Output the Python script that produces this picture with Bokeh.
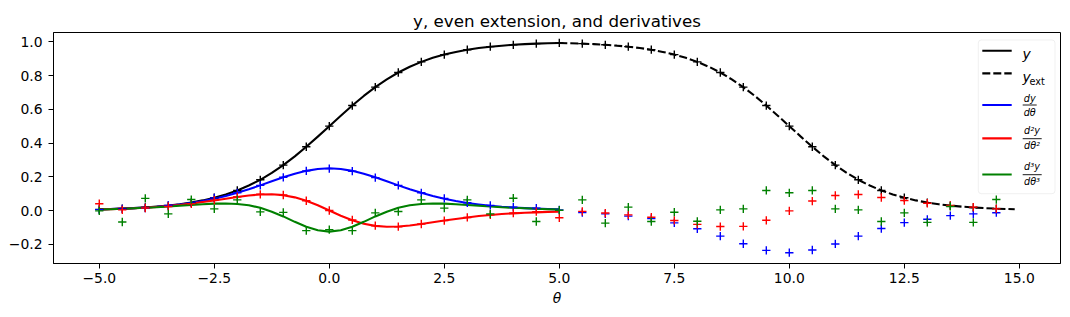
from bokeh.plotting import figure
from bokeh.models import Range1d, FixedTicker, BoxAnnotation, Arrow, Label
from bokeh.embed import file_html
from bokeh.resources import INLINE

# ---- data ----
theta = [-5.0, -4.75, -4.5, -4.25, -4.0, -3.75, -3.5, -3.25, -3.0, -2.75, -2.5, -2.25, -2.0, -1.75,
         -1.5, -1.25, -1.0, -0.75, -0.5, -0.25, 0.0, 0.25, 0.5, 0.75, 1.0, 1.25, 1.5, 1.75, 2.0, 2.25,
         2.5, 2.75, 3.0, 3.25, 3.5, 3.75, 4.0, 4.25, 4.5, 4.75, 5.0]
y_line = [0.007, 0.009, 0.011, 0.014, 0.018, 0.023, 0.029, 0.037, 0.047, 0.060, 0.076, 0.095, 0.119, 0.148,
          0.182, 0.223, 0.269, 0.321, 0.378, 0.438, 0.500, 0.562, 0.622, 0.679, 0.731, 0.777, 0.818, 0.852,
          0.881, 0.905, 0.924, 0.940, 0.953, 0.963, 0.971, 0.977, 0.982, 0.986, 0.989, 0.991, 0.993]
dy_line = [0.007, 0.009, 0.011, 0.014, 0.018, 0.022, 0.028, 0.036, 0.045, 0.056, 0.070, 0.086, 0.105, 0.126,
           0.149, 0.173, 0.197, 0.218, 0.235, 0.246, 0.250, 0.246, 0.235, 0.218, 0.197, 0.173, 0.149, 0.126,
           0.105, 0.086, 0.070, 0.056, 0.045, 0.036, 0.028, 0.022, 0.018, 0.014, 0.011, 0.009, 0.007]
d2y_line = [0.007, 0.008, 0.011, 0.013, 0.017, 0.021, 0.027, 0.033, 0.041, 0.050, 0.059, 0.070, 0.080, 0.089,
            0.095, 0.096, 0.091, 0.078, 0.058, 0.031, 0.000, -0.031, -0.058, -0.078, -0.091, -0.096, -0.095,
            -0.089, -0.080, -0.070, -0.059, -0.050, -0.041, -0.033, -0.027, -0.021, -0.017, -0.013, -0.011,
            -0.008, -0.007]
d3y_line = [0.006, 0.008, 0.010, 0.013, 0.016, 0.019, 0.024, 0.028, 0.033, 0.037, 0.041, 0.042, 0.039, 0.031,
            0.016, -0.007, -0.035, -0.067, -0.096, -0.117, -0.125, -0.117, -0.096, -0.067, -0.035, -0.007,
            0.016, 0.031, 0.039, 0.042, 0.041, 0.037, 0.033, 0.028, 0.024, 0.019, 0.016, 0.013, 0.010, 0.008,
            0.006]

theta_ext = [5.0, 5.25, 5.5, 5.75, 6.0, 6.25, 6.5, 6.75, 7.0, 7.25, 7.5, 7.75, 8.0, 8.25, 8.5, 8.75, 9.0,
             9.25, 9.5, 9.75, 10.0, 10.25, 10.5, 10.75, 11.0, 11.25, 11.5, 11.75, 12.0, 12.25, 12.5, 12.75,
             13.0, 13.25, 13.5, 13.75, 14.0, 14.25, 14.5, 14.75, 14.9]
y_ext_line = [0.993, 0.991, 0.989, 0.986, 0.982, 0.977, 0.971, 0.963, 0.953, 0.940, 0.924, 0.905, 0.881,
              0.852, 0.818, 0.777, 0.731, 0.679, 0.622, 0.562, 0.500, 0.438, 0.378, 0.321, 0.269, 0.223,
              0.182, 0.148, 0.119, 0.095, 0.076, 0.060, 0.047, 0.037, 0.029, 0.023, 0.018, 0.014, 0.011,
              0.009, 0.007]

theta_s = [-5.0, -4.5, -4.0, -3.5, -3.0, -2.5, -2.0, -1.5, -1.0, -0.5, 0.0, 0.5, 1.0, 1.5, 2.0, 2.5, 3.0,
           3.5, 4.0, 4.5, 5.0, 5.5, 6.0, 6.5, 7.0, 7.5, 8.0, 8.5, 9.0, 9.5, 10.0, 10.5, 11.0, 11.5, 12.0,
           12.5, 13.0, 13.5, 14.0, 14.5]
y_s = [0.007, 0.011, 0.018, 0.029, 0.047, 0.076, 0.119, 0.182, 0.269, 0.378, 0.500, 0.622, 0.731, 0.818,
       0.881, 0.924, 0.953, 0.971, 0.982, 0.989, 0.993, 0.989, 0.982, 0.971, 0.953, 0.924, 0.881, 0.818,
       0.731, 0.622, 0.500, 0.378, 0.269, 0.182, 0.119, 0.076, 0.047, 0.029, 0.018, 0.011]
dy_s = [0.005, 0.010, 0.015, 0.030, 0.045, 0.075, 0.105, 0.149, 0.197, 0.235, 0.248, 0.233, 0.195, 0.149,
        0.105, 0.072, 0.046, 0.030, 0.020, 0.014, 0.004, -0.012, -0.020, -0.033, -0.048, -0.073, -0.108,
        -0.152, -0.197, -0.236, -0.250, -0.234, -0.198, -0.152, -0.107, -0.072, -0.052, -0.030, -0.020,
        -0.013]
d2y_s = [0.040, 0.004, 0.015, 0.024, 0.040, 0.061, 0.082, 0.096, 0.092, 0.058, 0.000, -0.056, -0.090,
         -0.096, -0.080, -0.060, -0.041, -0.025, -0.015, -0.007, -0.043, -0.005, -0.015, -0.026, -0.040,
         -0.059, -0.082, -0.095, -0.094, -0.058, -0.002, 0.056, 0.089, 0.095, 0.077, 0.059, 0.043, 0.030,
         0.020, 0.010]
d3y_s = [-0.002, -0.068, 0.072, -0.020, 0.065, 0.010, 0.063, -0.008, -0.011, -0.119, -0.113, -0.119, -0.014,
         -0.006, 0.063, 0.014, 0.063, -0.020, 0.073, -0.065, 0.002, 0.063, -0.075, 0.020, -0.065, -0.010,
         -0.064, 0.004, 0.010, 0.119, 0.105, 0.119, 0.010, 0.004, -0.065, -0.014, -0.070, 0.024, -0.070,
         0.065]

x_ticks = [-5.0, -2.5, 0.0, 2.5, 5.0, 7.5, 10.0, 12.5, 15.0]
x_tick_labels = ["\u22125.0", "\u22122.5", "0.0", "2.5", "5.0", "7.5", "10.0", "12.5", "15.0"]
y_ticks = [-0.2, 0.0, 0.2, 0.4, 0.6, 0.8, 1.0]
y_tick_labels = ["\u22120.2", "0.0", "0.2", "0.4", "0.6", "0.8", "1.0"]

FONT = "DejaVu Sans"
BLACK, BLUE, RED, GREEN = "#000000", "#0000ff", "#ff0000", "#008000"

p = figure(width=1062, height=309, output_backend="svg", toolbar_location=None,
           x_range=Range1d(-5.995, 15.895), y_range=Range1d(-0.314, 1.055),
           min_border_left=53, min_border_right=2, min_border_top=32, min_border_bottom=46,
           title="y, even extension, and derivatives")
p.background_fill_color = "white"
p.border_fill_color = "white"
p.outline_line_color = "black"
p.outline_line_width = 1
p.outline_line_alpha = 1
p.xgrid.visible = False
p.ygrid.visible = False

p.title.text_font = FONT
p.title.text_font_size = "16.7px"
p.title.text_font_style = "normal"
p.title.align = "center"
p.title.standoff = 4
p.title.text_color = "black"

for ax in (p.xaxis[0], p.yaxis[0]):
    ax.axis_line_color = "black"
    ax.major_tick_line_color = "black"
    ax.major_tick_out = 5
    ax.major_tick_in = 0
    ax.minor_tick_line_color = None
    ax.major_label_text_font = FONT
    ax.major_label_text_font_size = "13.9px"
    ax.major_label_text_color = "black"

p.xaxis.major_label_standoff = 4
p.yaxis.major_label_standoff = 6
p.xaxis.ticker = FixedTicker(ticks=x_ticks)
p.xaxis.major_label_overrides = dict(zip(x_ticks, x_tick_labels))
p.yaxis.ticker = FixedTicker(ticks=y_ticks)
p.yaxis.major_label_overrides = dict(zip(y_ticks, y_tick_labels))
p.xaxis.axis_label = "\u03b8"
p.xaxis.axis_label_text_font = FONT
p.xaxis.axis_label_text_font_size = "13.9px"
p.xaxis.axis_label_text_font_style = "italic"
p.xaxis.axis_label_text_color = "black"
p.xaxis.axis_label_standoff = 4

LW = 2.08
p.line(theta, y_line, line_color=BLACK, line_width=LW, line_join="round")
p.line(theta_ext, y_ext_line, line_color=BLACK, line_width=LW, line_dash="8 3")
p.line(theta, dy_line, line_color=BLUE, line_width=LW, line_join="round")
p.line(theta, d2y_line, line_color=RED, line_width=LW, line_join="round")
p.line(theta, d3y_line, line_color=GREEN, line_width=LW, line_join="round")

MS, MW = 8.3, 1.4
p.scatter(theta_s, y_s, marker="cross", size=MS, line_color=BLACK, line_width=MW)
p.scatter(theta_s, dy_s, marker="cross", size=MS, line_color=BLUE, line_width=MW)
p.scatter(theta_s, d2y_s, marker="cross", size=MS, line_color=RED, line_width=MW)
p.scatter(theta_s, d3y_s, marker="cross", size=MS, line_color=GREEN, line_width=MW)

# ---- legend (screen units, relative to the frame's bottom-left) ----
FL, FB = 53.5, 262.8


def sx(rx):
    return rx - FL


def sy(ry):
    return FB - ry


p.add_layout(BoxAnnotation(left=sx(978.3), right=sx(1055), top=sy(39.3), bottom=sy(193),
                           left_units="screen", right_units="screen", top_units="screen",
                           bottom_units="screen", fill_color="white", fill_alpha=0.8,
                           line_color="#cccccc", line_width=1, border_radius=3))


def sample(ry, color, dash="solid"):
    p.add_layout(Arrow(x_start=sx(982.3), y_start=sy(ry), x_end=sx(1011.7), y_end=sy(ry),
                       start_units="screen", end_units="screen", start=None, end=None,
                       line_color=color, line_width=LW, line_dash=dash))


def text(rx, ry, s, size, align="left", baseline="middle", style="italic"):
    p.add_layout(Label(x=sx(rx), y=sy(ry), x_units="screen", y_units="screen", text=s,
                       text_font=FONT, text_font_size=size, text_font_style=style,
                       text_color="black", text_align=align, text_baseline=baseline))


def bar(rx0, rx1, ry):
    p.add_layout(Arrow(x_start=sx(rx0), y_start=sy(ry), x_end=sx(rx1), y_end=sy(ry),
                       start_units="screen", end_units="screen", start=None, end=None,
                       line_color="black", line_width=0.9))


sample(50.0, BLACK)
text(1022.5, 53.5, "y", "13.9px", baseline="alphabetic")
sample(72.7, BLACK, "8 3")
text(1022.5, 76.5, "y", "13.9px", baseline="alphabetic")
text(1029.5, 80.3, "ext", "9.7px", baseline="alphabetic", style="normal")

sample(104.3, BLUE)
text(1029.7, 97.5, "dy", "9.7px", align="center")
bar(1022.7, 1036.7, 104.3)
text(1029.7, 111.5, "d\u03b8", "9.7px", align="center")

sample(137.7, RED)
text(1032.0, 130.0, "d\u00b2y", "9.7px", align="center")
bar(1022.7, 1041.7, 138.0)
text(1032.0, 145.0, "d\u03b8\u00b2", "9.7px", align="center")

sample(173.8, GREEN)
text(1032.0, 165.5, "d\u00b3y", "9.7px", align="center")
bar(1022.7, 1041.7, 174.0)
text(1032.0, 181.0, "d\u03b8\u00b3", "9.7px", align="center")

open("out.html", "w").write(file_html(p, INLINE))
